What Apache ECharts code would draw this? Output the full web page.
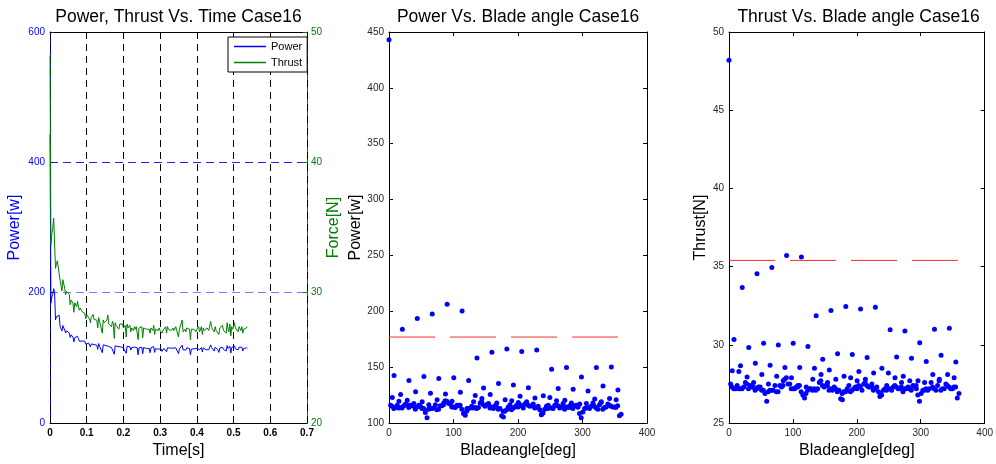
<!DOCTYPE html>
<html>
<head>
<meta charset="utf-8">
<title>Case16</title>
<script src="https://cdn.jsdelivr.net/npm/echarts@6/dist/echarts.min.js"></script>
<style>
  html, body { margin: 0; padding: 0; background: #fff; }
  #chart { width: 996px; height: 464px; }
</style>
</head>
<body>
<div id="chart"></div>
<script>
// Sample times [s], one row per blade revolution (16 samples each)
const timeS = [
  0,0.0025,0.005,0.0075,0.01,0.0125,0.015,0.0175,0.02,0.0225,0.025,0.0275,0.03,0.0325,0.035,0.0375,
  0.04,0.0425,0.045,0.0475,0.05,0.0525,0.055,0.0575,0.06,0.0625,0.065,0.0675,0.07,0.0725,0.075,0.0775,
  0.08,0.0825,0.085,0.0875,0.09,0.0925,0.095,0.0975,0.1,0.1025,0.105,0.1075,0.11,0.1125,0.115,0.1175,
  0.12,0.1225,0.125,0.1275,0.13,0.1325,0.135,0.1375,0.14,0.1425,0.145,0.1475,0.15,0.1525,0.155,0.1575,
  0.16,0.1625,0.165,0.1675,0.17,0.1725,0.175,0.1775,0.18,0.1825,0.185,0.1875,0.19,0.1925,0.195,0.1975,
  0.2,0.2025,0.205,0.2075,0.21,0.2125,0.215,0.2175,0.22,0.2225,0.225,0.2275,0.23,0.2325,0.235,0.2375,
  0.24,0.2425,0.245,0.2475,0.25,0.2525,0.255,0.2575,0.26,0.2625,0.265,0.2675,0.27,0.2725,0.275,0.2775,
  0.28,0.2825,0.285,0.2875,0.29,0.2925,0.295,0.2975,0.3,0.3025,0.305,0.3075,0.31,0.3125,0.315,0.3175,
  0.32,0.3225,0.325,0.3275,0.33,0.3325,0.335,0.3375,0.34,0.3425,0.345,0.3475,0.35,0.3525,0.355,0.3575,
  0.36,0.3625,0.365,0.3675,0.37,0.3725,0.375,0.3775,0.38,0.3825,0.385,0.3875,0.39,0.3925,0.395,0.3975,
  0.4,0.4025,0.405,0.4075,0.41,0.4125,0.415,0.4175,0.42,0.4225,0.425,0.4275,0.43,0.4325,0.435,0.4375,
  0.44,0.4425,0.445,0.4475,0.45,0.4525,0.455,0.4575,0.46,0.4625,0.465,0.4675,0.47,0.4725,0.475,0.4775,
  0.48,0.4825,0.485,0.4875,0.49,0.4925,0.495,0.4975,0.5,0.5025,0.505,0.5075,0.51,0.5125,0.515,0.5175,
  0.52,0.5225,0.525,0.5275,0.53,0.5325,0.535,0.5375
];

// Blade angle [deg] at each sample
const bladeAngle = [
  0,20.7,43.8,67.0,90.1,113.3,136.4,159.5,182.7,205.8,229.0,252.1,275.2,298.4,321.5,344.7,
  7.8,30.9,54.1,77.2,100.4,123.5,146.6,169.8,192.9,216.1,239.2,262.3,285.5,308.6,331.8,354.9,
  18.0,41.2,64.3,87.5,110.6,133.7,156.9,180.0,203.2,226.3,249.4,272.6,295.7,318.9,342.0,5.1,
  28.3,51.4,74.6,97.7,120.8,144.0,167.1,190.3,213.4,236.5,259.7,282.8,306.0,329.1,352.2,15.4,
  38.5,61.7,84.8,107.9,131.1,154.2,177.4,200.5,223.6,246.8,269.9,293.1,316.2,339.3,2.5,25.6,
  48.8,71.9,95.0,118.2,141.3,164.5,187.6,210.7,233.9,257.0,280.2,303.3,326.4,349.6,12.7,35.9,
  59.0,82.1,105.3,128.4,151.6,174.7,197.8,221.0,244.1,267.3,290.4,313.5,336.7,359.8,23.0,46.1,
  69.2,92.4,115.5,138.7,161.8,184.9,208.1,231.2,254.4,277.5,300.6,323.8,346.9,10.1,33.2,56.3,
  79.5,102.6,125.8,148.9,172.0,195.2,218.3,241.5,264.6,287.7,310.9,334.0,357.2,20.3,43.4,66.6,
  89.7,112.9,136.0,159.1,182.3,205.4,228.6,251.7,274.8,298.0,321.1,344.3,7.4,30.5,53.7,76.8,
  100.0,123.1,146.2,169.4,192.5,215.7,238.8,261.9,285.1,308.2,331.4,354.5,17.6,40.8,63.9,87.1,
  110.2,133.3,156.5,179.6,202.8,225.9,249.0,272.2,295.3,318.5,341.6,4.7,27.9,51.0,74.2,97.3,
  120.4,143.6,166.7,189.9,213.0,236.1,259.3,282.4,305.6,328.7,351.8,15.0,38.1,61.3,84.4,107.5,
  130.7,153.8,177.0,200.1,223.2,246.4,269.5,292.7
];

// Power [w] at each sample
const powerW = [
  443,184,193.5,197.7,206.3,200.4,158.3,163.3,166.3,164,165.4,148.3,149.7,141.2,149.7,150.3,
  142.6,138.2,141.7,140.0,140.6,138.2,131.4,135.5,134.0,131.7,124.5,131.0,130.2,128.7,133.2,129.6,
  125.5,128.0,126.7,126.0,127.5,124.8,125.5,121.0,124.0,122.5,123.0,120.5,117.0,121.5,122.0,123.0,
  120.5,119.0,121.0,119.5,113.0,122.0,118.0,120.0,119.0,108.0,120.0,118.0,117.5,119.0,121.0,119.5,
  117.5,116.5,118.0,116.0,119.0,117.5,105.5,118.5,117.0,116.0,117.5,114.5,118.0,117.0,116.0,117.0,
  115.0,116.5,117.0,107.0,118.0,115.5,116.5,117.0,112.0,116.0,115.5,113.0,116.5,114.5,116.0,115.5,
  104.7,115.5,116.0,115.0,116.5,106.5,116.0,115.5,115.0,114.5,116.0,115.0,114.5,108.0,115.5,116.0,
  113.5,117.5,108.5,114.0,113.0,114.5,113.5,115.0,113.0,114.0,110.0,112.5,114.5,114.0,116.0,109.5,
  115.5,114.0,113.5,115.0,113.0,114.5,115.0,112.5,113.5,115.5,113.0,114.0,106.5,113.5,114.5,113.0,
  119.5,112.5,113.0,114.5,112.0,115.5,114.0,113.5,114.5,104.8,113.5,115.0,113.0,114.0,113.0,112.5,
  114.5,113.0,116.5,112.5,113.5,116.0,109.0,115.5,113.0,114.0,112.5,115.5,114.0,112.5,113.5,120.0,
  116.0,114.0,113.5,110.5,116.5,113.5,114.0,112.5,108.5,115.0,116.0,115.0,116.5,113.0,112.0,114.5,
  110.5,119.0,114.5,112.0,118.0,107.5,116.0,114.0,113.5,118.5,114.0,113.5,115.0,112.5,116.5,115.5,
  113.5,116.5,110.5,114.5,115.5,113.0,115.5,114.5
];

// Thrust [N] at each sample
const thrustN = [
  48.2,33.67,34.54,34.94,35.72,35.62,31.87,32.19,32.45,32.30,32.40,30.96,30.88,30.14,31.0,31.07,
  30.35,29.84,30.1,29.99,30.1,29.89,29.08,29.44,29.38,29.19,28.5,29.23,29.15,28.93,29.34,28.91,
  28.66,28.83,28.7,28.55,28.55,28.5,28.4,28.0,28.3,28.2,28.2,28.0,27.7,28.1,28.1,28.34,
  27.95,28.1,28.0,27.9,27.3,28.1,27.8,27.9,27.8,26.9,27.9,27.7,27.6,27.8,27.9,28.3,
  27.6,27.5,27.7,27.4,27.8,27.6,26.5,27.7,27.5,27.4,27.6,27.2,27.6,27.5,27.5,27.6,
  27.3,27.4,27.5,26.6,27.6,27.3,27.4,27.5,27.0,27.3,27.3,27.1,27.4,27.2,27.4,27.3,
  26.4,27.3,27.3,27.2,27.4,26.55,27.3,27.3,27.2,27.2,27.3,27.2,27.2,26.9,27.3,27.3,
  27.1,27.5,26.8,27.2,27.1,27.2,27.1,27.3,27.1,27.2,26.9,27.1,27.2,27.2,27.4,26.9,
  27.4,27.2,27.2,27.3,27.1,27.2,27.3,27.1,27.2,27.4,27.1,27.2,26.6,27.2,27.2,27.1,
  27.9,27.0,27.1,27.2,27.0,27.3,27.2,27.2,27.2,26.4,27.2,27.3,27.2,27.2,27.1,27.0,
  27.2,27.1,27.4,27.0,27.1,27.4,26.8,27.3,27.1,27.2,27.1,27.3,27.2,27.1,27.1,27.8,
  27.4,27.2,27.1,27.0,27.4,27.1,27.2,27.0,26.8,27.3,27.4,27.3,27.5,27.1,27.0,27.2,
  26.9,27.7,27.2,27.0,27.6,26.7,27.4,27.2,27.1,27.7,27.3,27.2,27.3,27.0,27.4,27.3,
  27.1,27.4,26.9,27.2,27.3,27.1,27.3,27.4
];

// Reference levels drawn across one revolution
const limitAngles = [0, 358];
const powerLimit = 177;
const thrustLimit = 35.4;

// Axis ranges / ticks
const timeTicks = { min: 0, max: 0.7, interval: 0.1 };
const powerTicksL = { min: 0, max: 600, interval: 200 };
const forceTicksR = { min: 20, max: 50, interval: 10 };
const angleTicks = { min: 0, max: 400, interval: 100 };
const powerTicksM = { min: 100, max: 450, interval: 50 };
const thrustTicksR = { min: 25, max: 50, interval: 5 };

const BLUE = '#0000ff';
const GREEN = '#008000';
const RED = '#ff2a2a';
const FONT = '"Liberation Sans", Arial, Helvetica, sans-serif';

const timePower = timeS.map((t, i) => [t, powerW[i]]);
const timeThrust = timeS.map((t, i) => [t, thrustN[i]]);
const anglePower = bladeAngle.map((a, i) => [a, powerW[i]]);
const angleThrust = bladeAngle.map((a, i) => [a, thrustN[i]]);
const powerLimitLine = limitAngles.map(a => [a, powerLimit]);
const thrustLimitLine = limitAngles.map(a => [a, thrustLimit]);

function tick(color) {
  return { show: true, inside: true, length: 4, lineStyle: { color: color, width: 1 } };
}
function line(color) {
  return { show: true, onZero: false, lineStyle: { color: color, width: 1 } };
}
function plainAxis(grid, pos, range, labelColor, extra) {
  return Object.assign({
    type: 'value', gridIndex: grid, position: pos,
    min: range.min, max: range.max, interval: range.interval,
    axisLine: line('#000'), axisTick: tick('#000'),
    axisLabel: { show: true, color: labelColor, fontSize: 10, fontFamily: FONT, margin: 5 },
    splitLine: { show: false }
  }, extra || {});
}
function mirrorAxis(grid, pos, range) {
  return {
    type: 'value', gridIndex: grid, position: pos,
    min: range.min, max: range.max, interval: range.interval,
    axisLine: line('#000'), axisTick: tick('#000'),
    axisLabel: { show: false }, splitLine: { show: false }
  };
}
const nameStyle = (c) => ({ color: c, fontSize: 16, fontFamily: FONT });
const titleStyle = { fontSize: 17.5, fontWeight: 'normal', color: '#000', fontFamily: FONT };

const option = {
  animation: false,
  backgroundColor: '#fff',
  textStyle: { fontFamily: FONT },
  title: [
    { text: 'Power, Thrust Vs. Time Case16', left: 178.5, top: 8, padding: 0, textAlign: 'center', textStyle: titleStyle },
    { text: 'Power Vs. Blade angle Case16', left: 518, top: 8, padding: 0, textAlign: 'center', textStyle: titleStyle },
    { text: 'Thrust Vs. Blade angle Case16', left: 858.5, top: 8, padding: 0, textAlign: 'center', textStyle: titleStyle }
  ],
  legend: {
    data: ['Power', 'Thrust'],
    orient: 'vertical', left: 228, top: 37,
    backgroundColor: '#fff', borderColor: '#000', borderWidth: 1, borderRadius: 0,
    padding: [4, 5, 4, 6], itemGap: 5, itemWidth: 32, itemHeight: 1.5, icon: 'rect',
    textStyle: { fontSize: 11, color: '#000', fontFamily: FONT }
  },
  grid: [
    { left: 50, top: 32, width: 257, height: 394 },
    { left: 389, top: 32, width: 258, height: 394 },
    { left: 729, top: 32, width: 259, height: 394 }
  ],
  xAxis: [
    plainAxis(0, 'bottom', timeTicks, '#000', {
      axisLabel: { color: '#000', fontSize: 10, fontWeight: 'bold', fontFamily: FONT, margin: 5,
        formatter: v => String(Math.round(v * 10) / 10) },
      splitLine: { show: true, lineStyle: { color: '#000', width: 1, type: [7, 5] } },
      name: 'Time[s]', nameLocation: 'middle', nameGap: 17, nameTextStyle: nameStyle('#000'),
      z: 3
    }),
    mirrorAxis(0, 'top', timeTicks),
    plainAxis(1, 'bottom', angleTicks, '#262626', {
      name: 'Bladeangle[deg]', nameLocation: 'middle', nameGap: 17, nameTextStyle: nameStyle('#000')
    }),
    mirrorAxis(1, 'top', angleTicks),
    plainAxis(2, 'bottom', angleTicks, '#262626', {
      name: 'Bladeangle[deg]', nameLocation: 'middle', nameGap: 17, nameTextStyle: nameStyle('#000')
    }),
    mirrorAxis(2, 'top', angleTicks)
  ],
  yAxis: [
    {
      type: 'value', gridIndex: 0, position: 'left',
      min: powerTicksL.min, max: powerTicksL.max, interval: powerTicksL.interval,
      axisLine: line(BLUE), axisTick: tick(BLUE),
      axisLabel: { color: BLUE, fontSize: 10, fontFamily: FONT, margin: 5 },
      splitLine: { show: true, lineStyle: { color: ['#0000ff', '#7a7aff', '#2020ff', '#2020ff'], width: 1, type: [8, 5] } },
      name: 'Power[w]', nameLocation: 'middle', nameGap: 27, nameTextStyle: nameStyle(BLUE)
    },
    {
      type: 'value', gridIndex: 0, position: 'right',
      min: forceTicksR.min, max: forceTicksR.max, interval: forceTicksR.interval,
      axisLine: line(GREEN), axisTick: tick(GREEN),
      axisLabel: { color: GREEN, fontSize: 10, fontFamily: FONT, margin: 4 },
      splitLine: { show: false },
      name: 'Force[N]', nameLocation: 'middle', nameGap: 19, nameTextStyle: nameStyle(GREEN)
    },
    plainAxis(1, 'left', powerTicksM, '#262626', {
      name: 'Power[w]', nameLocation: 'middle', nameGap: 22, nameTextStyle: nameStyle('#000')
    }),
    mirrorAxis(1, 'right', powerTicksM),
    plainAxis(2, 'left', thrustTicksR, '#262626', {
      name: 'Thrust[N]', nameLocation: 'middle', nameGap: 20, nameTextStyle: nameStyle('#000')
    }),
    mirrorAxis(2, 'right', thrustTicksR)
  ],
  series: [
    { name: 'Power', type: 'line', xAxisIndex: 0, yAxisIndex: 0, data: timePower,
      showSymbol: false, symbol: 'none', color: BLUE, lineStyle: { color: BLUE, width: 1 } },
    { name: 'Thrust', type: 'line', xAxisIndex: 0, yAxisIndex: 1, data: timeThrust,
      showSymbol: false, symbol: 'none', color: GREEN, lineStyle: { color: GREEN, width: 1 } },
    { type: 'line', xAxisIndex: 2, yAxisIndex: 2, data: powerLimitLine, symbol: 'none',
      lineStyle: { color: RED, width: 1, type: [46, 15] } },
    { type: 'scatter', xAxisIndex: 2, yAxisIndex: 2, data: anglePower,
      symbol: 'circle', symbolSize: 5, itemStyle: { color: BLUE, opacity: 1 } },
    { type: 'line', xAxisIndex: 4, yAxisIndex: 4, data: thrustLimitLine, symbol: 'none',
      lineStyle: { color: RED, width: 1, type: [46, 15] } },
    { type: 'scatter', xAxisIndex: 4, yAxisIndex: 4, data: angleThrust,
      symbol: 'circle', symbolSize: 5, itemStyle: { color: BLUE, opacity: 1 } }
  ]
};

const chart = echarts.init(document.getElementById('chart'), null, { renderer: 'canvas' });
chart.setOption(option);
</script>
</body>
</html>
